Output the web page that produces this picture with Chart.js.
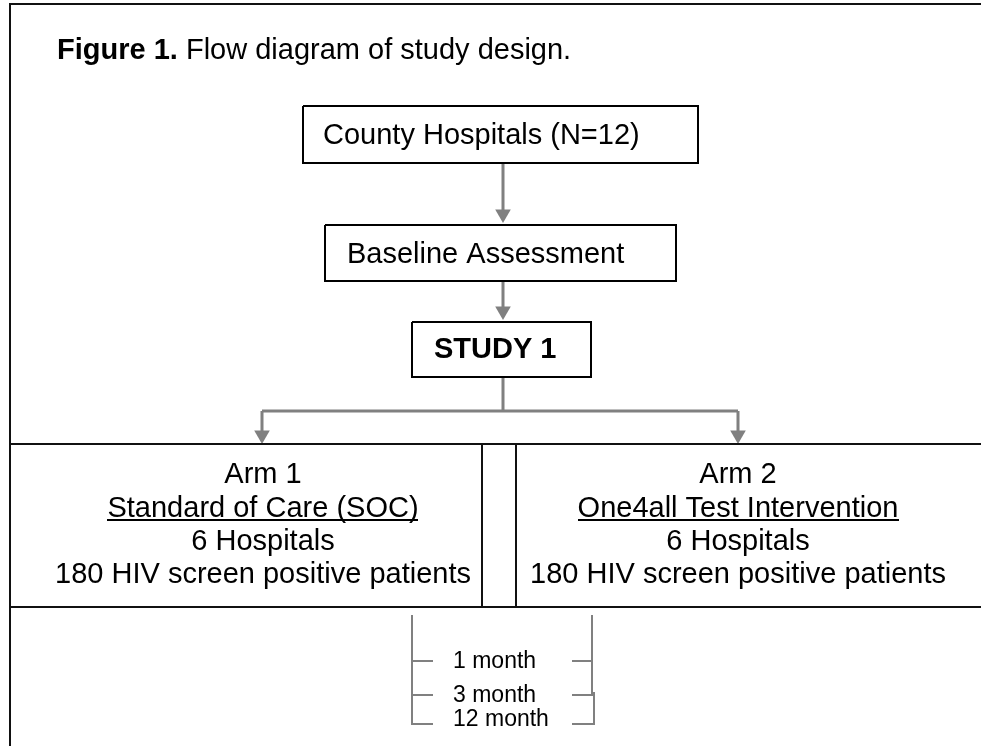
<!DOCTYPE html>
<html><head><meta charset="utf-8">
<script src="https://cdn.jsdelivr.net/npm/chart.js@4/dist/chart.umd.min.js"></script>
<style>html,body{margin:0;padding:0;background:#fff}canvas{display:block}</style>
</head><body>
<canvas id="c" width="981" height="746"></canvas>
<script>
// Diagram texts
const titleBold = "Figure 1.";
const titleRest = " Flow diagram of study design.";
const boxLabels = ["County Hospitals (N=12)", "Baseline Assessment", "STUDY 1"];
const arm1Lines = ["Arm 1", "Standard of Care (SOC)", "6 Hospitals", "180 HIV screen positive patients"];
const arm2Lines = ["Arm 2", "One4all Test Intervention", "6 Hospitals", "180 HIV screen positive patients"];
const followUps = ["1 month", "3 month", "12 month"];

// Diagram layout in diagram units (x: 0..981, y: 0..746 from top)
const boxRects = [[303,106,698,163],[325,225,676,281],[412,322,591,377]];
const boxTextAnchors = [[323,144],[347,263],[434,358]];
const frameLines = [
  [[10,746],[10,4],[981,4]],
  [[10,444],[981,444]],
  [[10,607],[981,607]],
  [[482,444],[482,607]],
  [[516,444],[516,607]]
];
const connectorLines = [
  [[503,163],[503,215]],
  [[503,281],[503,312]],
  [[503,377],[503,411]],
  [[262,411],[738,411]],
  [[262,411],[262,435]],
  [[738,411],[738,435]]
];
const arrowTips = [[503,223],[503,320],[262,444],[738,444]];
const bracketLines = [
  [[412,615],[412,725]],
  [[412,661],[433,661]],
  [[412,695],[433,695]],
  [[412,724],[433,724]],
  [[592,615],[592,696]],
  [[594,692],[594,725]],
  [[572,661],[592,661]],
  [[572,695],[594,695]],
  [[572,724],[594,724]]
];
const armCenters = [263, 738];
const armBaselines = [483, 517, 550, 583];
const followUpAnchors = [[453,668],[453,702],[453,726]];

const pts = a => a.map(p => ({x:p[0], y:p[1]}));
const datasets = [];
function addLine(points, color, width){
  datasets.push({type:'line', data: pts(points), borderColor: color, borderWidth: width,
    pointRadius: 0, fill: false, tension: 0, clip: false, showLine: true});
}
boxRects.forEach(r => addLine([[r[0],r[1]],[r[2],r[1]],[r[2],r[3]],[r[0],r[3]],[r[0],r[1]]], '#000', 2));
frameLines.forEach(l => addLine(l, '#111', 2));
connectorLines.forEach(l => addLine(l, '#808080', 3));
bracketLines.forEach(l => addLine(l, '#808080', 2));
const arrowR = 9;
datasets.push({type:'scatter', data: arrowTips.map(t => ({x:t[0], y:t[1]-arrowR})),
  pointStyle:'triangle', rotation:180, pointRadius: arrowR, pointBackgroundColor:'#808080',
  pointBorderWidth:0, borderWidth:0, clip:false});

const FONT = '"Liberation Sans", Arial, sans-serif';
const textPlugin = {
  id:'texts',
  afterDatasetsDraw(chart){
    const ctx = chart.ctx, sx = chart.scales.x, sy = chart.scales.y;
    const X = v => sx.getPixelForValue(v), Y = v => sy.getPixelForValue(v);
    ctx.save();
    ctx.fillStyle = '#000';
    ctx.textBaseline = 'alphabetic';
    ctx.textAlign = 'left';
    // title
    ctx.font = 'bold 29px ' + FONT;
    ctx.fillText(titleBold, X(57), Y(59));
    const w = ctx.measureText(titleBold).width;
    ctx.font = '29px ' + FONT;
    ctx.fillText(titleRest, X(57) + w, Y(59));
    // boxes
    boxLabels.forEach((t,i) => {
      ctx.font = (i === 2 ? 'bold ' : '') + '29px ' + FONT;
      ctx.fillText(t, X(boxTextAnchors[i][0]), Y(boxTextAnchors[i][1]));
    });
    // arms
    ctx.font = '29px ' + FONT;
    ctx.textAlign = 'center';
    [arm1Lines, arm2Lines].forEach((lines, a) => {
      lines.forEach((t, i) => {
        const cx = X(armCenters[a]), by = Y(armBaselines[i]);
        ctx.fillText(t, cx, by);
        if (i === 1) {
          const tw = ctx.measureText(t).width;
          ctx.fillRect(Math.round(cx - tw/2), Math.round(by) + 2, Math.round(tw), 2);
        }
      });
    });
    // follow-ups
    ctx.textAlign = 'left';
    ctx.font = '23px ' + FONT;
    followUps.forEach((t,i) => ctx.fillText(t, X(followUpAnchors[i][0]), Y(followUpAnchors[i][1])));
    ctx.restore();
  }
};

new Chart(document.getElementById('c'), {
  type:'scatter',
  data:{datasets},
  options:{
    responsive:false, animation:false, devicePixelRatio:1,
    layout:{padding:0, autoPadding:false},
    plugins:{legend:{display:false}, tooltip:{enabled:false}, title:{display:false}},
    scales:{
      x:{type:'linear', min:0, max:981, display:false},
      y:{type:'linear', min:0, max:746, reverse:true, display:false}
    }
  },
  plugins:[textPlugin]
});
</script>
</body></html>
